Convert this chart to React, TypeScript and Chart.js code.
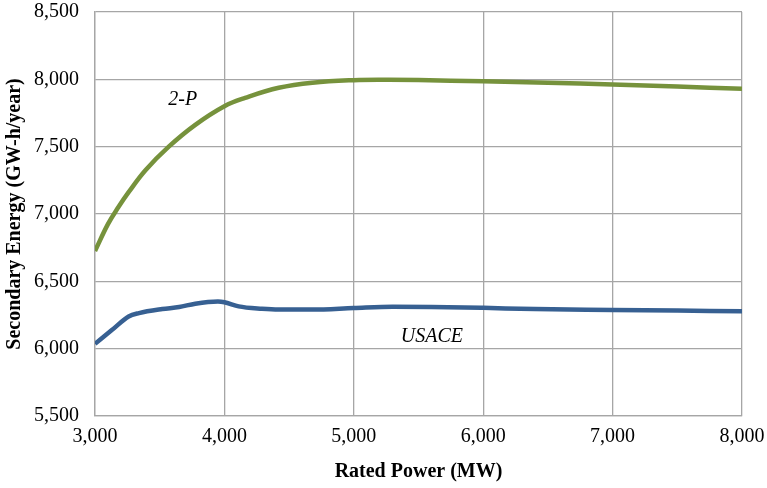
import React, { useEffect, useRef } from "react";
import { Chart, registerables } from "chart.js";

Chart.register(...registerables);

const xTicks = [3000, 4000, 5000, 6000, 7000, 8000];
const twoPX = [3000, 3100, 3180, 3260, 3390, 3570, 3775, 4000, 4160, 4420, 4680, 5000, 5250, 5500, 6000, 6500, 7000, 7500, 8000];
const twoPY = [6725, 6925, 7050, 7162, 7325, 7500, 7662, 7800, 7862, 7937, 7975, 7994, 7997, 7995, 7985, 7975, 7961, 7946, 7930];
const usaceX = [3000, 3130, 3260, 3340, 3520, 3650, 3775, 3950, 4000, 4110, 4290, 4420, 4680, 5000, 5300, 5600, 6000, 6400, 7000, 7500, 8000];
const usaceY = [6036, 6138, 6239, 6264, 6294, 6309, 6334, 6350, 6345, 6314, 6296, 6290, 6290, 6302, 6312, 6310, 6303, 6294, 6288, 6283, 6278];
const labelTexts = ["2-P", "USACE"];
const labelX = [3678, 5604];
const labelY = [7852, 6085];

const FONT = "'Liberation Serif', 'Times New Roman', serif";

export default function App() {
  const ref = useRef<HTMLCanvasElement>(null);
  useEffect(() => {
    document.body.style.margin = "0";
    const labelPlugin = {
      id: "seriesLabels",
      afterDatasetsDraw(chart: any) {
        const { ctx, scales } = chart;
        ctx.save();
        ctx.font = `italic 20px ${FONT}`;
        ctx.fillStyle = "#000";
        ctx.textAlign = "center";
        ctx.textBaseline = "middle";
        labelTexts.forEach((t, i) => {
          ctx.fillText(t, scales.x.getPixelForValue(labelX[i]), scales.y.getPixelForValue(labelY[i]));
        });
        ctx.restore();
      },
    };
    const chart = new Chart(ref.current!, {
      type: "line",
      data: {
        datasets: [
          {
            label: "2-P",
            data: twoPX.map((x, i) => ({ x, y: twoPY[i] })),
            borderColor: "#76923C",
            borderWidth: 4.5,
            pointRadius: 0,
            tension: 0.4,
            fill: false,
          },
          {
            label: "USACE",
            data: usaceX.map((x, i) => ({ x, y: usaceY[i] })),
            borderColor: "#376092",
            borderWidth: 4.5,
            pointRadius: 0,
            cubicInterpolationMode: "monotone",
            fill: false,
          },
        ],
      },
      options: {
        animation: false,
        responsive: false,
        layout: { autoPadding: false, padding: { top: 12, right: 25, left: 0, bottom: 0 } },
        plugins: { legend: { display: false }, tooltip: { enabled: false } },
        scales: {
          x: {
            type: "linear",
            min: 3000,
            max: 8000,
            afterBuildTicks: (s: any) => {
              s.ticks = xTicks.map((v) => ({ value: v }));
            },
            afterFit: (s: any) => {
              s.height = 72;
              s.paddingLeft = 0;
              s.paddingRight = 0;
            },
            grid: { color: "#A6A6A6", lineWidth: 1.3, drawTicks: false },
            border: { color: "#A6A6A6", width: 1.3 },
            ticks: {
              padding: 9,
              color: "#000",
              font: { family: FONT, size: 20 },
              callback: (v: any) => Number(v).toLocaleString("en-US"),
              maxRotation: 0,
            },
            title: {
              display: true,
              text: "Rated Power (MW)",
              color: "#000",
              font: { family: FONT, size: 20, weight: "bold" },
              padding: { top: 4, bottom: 4 },
            },
          },
          y: {
            min: 5500,
            max: 8500,
            afterFit: (s: any) => {
              s.width = 95;
              s.paddingTop = 0;
              s.paddingBottom = 0;
            },
            grid: { color: "#A6A6A6", lineWidth: 1.3, drawTicks: false },
            border: { color: "#A6A6A6", width: 1.3 },
            ticks: {
              stepSize: 500,
              padding: 16,
              color: "#000",
              font: { family: FONT, size: 20 },
              callback: (v: any) => Number(v).toLocaleString("en-US"),
            },
            title: {
              display: true,
              text: "Secondary Energy (GW-h/year)",
              color: "#000",
              font: { family: FONT, size: 20, weight: "bold" },
              padding: { top: 3, bottom: 2 },
            },
          },
        },
      },
      plugins: [labelPlugin],
    } as any);
    return () => chart.destroy();
  }, []);
  return <canvas ref={ref} width={767} height={488} style={{ display: "block" }} />;
}
